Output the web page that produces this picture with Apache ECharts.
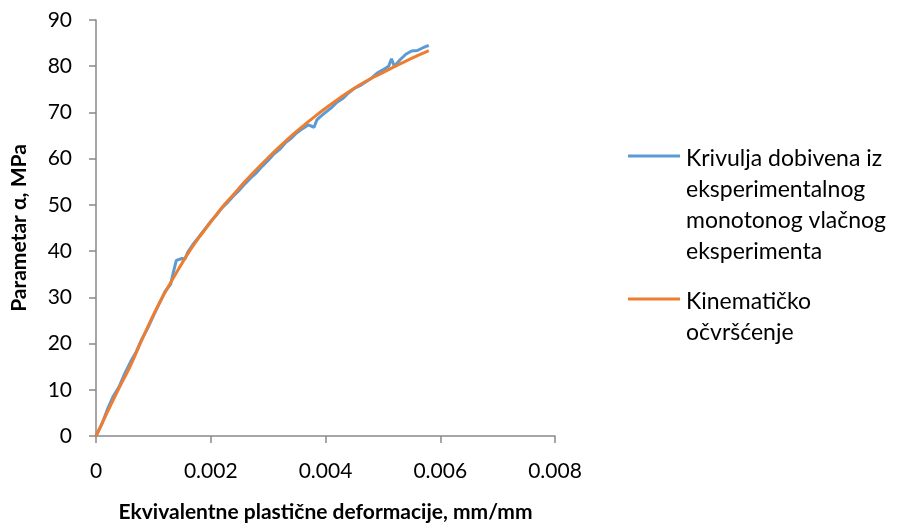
<!DOCTYPE html>
<html>
<head>
<meta charset="utf-8">
<script src="https://cdn.jsdelivr.net/npm/echarts@6/dist/echarts.min.js"></script>
<style>
  html, body { margin: 0; padding: 0; background: #fff; }
</style>
</head>
<body>
<div id="chart" style="width:903px;height:528px;"></div>
<script>
  // podaci ocitani sa slike
  var xTicks = [0, 0.002, 0.004, 0.006, 0.008]
  var yTicks = [0, 10, 20, 30, 40, 50, 60, 70, 80, 90]

  var expEps = [0, 0.0001, 0.0002, 0.0003, 0.0004, 0.0005, 0.0006, 0.0007, 0.0008, 0.0009,
    0.001, 0.0011, 0.0012, 0.0013, 0.00135, 0.0014, 0.0015, 0.00155, 0.0016, 0.0017,
    0.0018, 0.0019, 0.002, 0.0021, 0.0022, 0.0023, 0.0024, 0.0025, 0.0026, 0.0027,
    0.0028, 0.0029, 0.003, 0.0031, 0.0032, 0.0033, 0.0034, 0.0035, 0.0036, 0.0037,
    0.0038, 0.00385, 0.0039, 0.004, 0.0041, 0.0042, 0.0043, 0.0044, 0.0045, 0.0046,
    0.0047, 0.0048, 0.0049, 0.005, 0.0051, 0.00515, 0.0052, 0.0053, 0.0054, 0.0055,
    0.0056, 0.0057, 0.0058]
  var expAlpha = [0, 2.5, 5.8, 8.6, 10.6, 13.5, 16.0, 18.2, 21.0, 23.3,
    26.0, 28.6, 31.2, 32.8, 35.5, 38.0, 38.4, 38.3, 39.8, 41.6,
    43.2, 44.8, 46.4, 47.8, 49.4, 50.6, 52.0, 53.2, 54.6, 55.9,
    57.0, 58.4, 59.6, 61.0, 62.0, 63.4, 64.4, 65.6, 66.5, 67.3,
    66.8, 68.4, 69.0, 70.0, 71.0, 72.2, 73.0, 74.2, 75.2, 75.8,
    76.6, 77.4, 78.5, 79.2, 80.0, 81.6, 80.0, 81.4, 82.6, 83.3,
    83.4, 84.0, 84.5]

  var kinEps = [0, 0.0002, 0.0004, 0.0006, 0.0008, 0.001, 0.0012, 0.0014, 0.0016, 0.0018,
    0.002, 0.0022, 0.0024, 0.0026, 0.0028, 0.003, 0.0032, 0.0034, 0.0036, 0.0038,
    0.004, 0.0042, 0.0044, 0.0046, 0.0048, 0.005, 0.0052, 0.0054, 0.0056, 0.0058]
  var kinAlpha = [0, 5.2, 10.3, 15.2, 20.8, 26.2, 31.0, 35.3, 39.4, 43.0,
    46.3, 49.5, 52.3, 55.1, 57.7, 60.2, 62.6, 64.9, 67.0, 69.0,
    70.9, 72.7, 74.4, 76.0, 77.4, 78.6, 79.9, 81.1, 82.3, 83.4]

  var legendNames = ['Krivulja dobivena iz\neksperimentalnog\nmonotonog vlačnog\neksperimenta', 'Kinematičko\nočvršćenje']
  var colors = ['#5B9BD5', '#ED7D31']

  function pairs(xs, ys) {
    var out = []
    for (let i = 0; i < xs.length; i++) out.push([xs[i], ys[i]])
    return out
  }

  var font = 'Lato'
  var chart = echarts.init(document.getElementById('chart'))

  var option = {
    animation: false,
    textStyle: { fontFamily: font },
    grid: { left: 96, right: 348, top: 20, bottom: 90 },
    xAxis: {
      type: 'value',
      min: xTicks[0], max: xTicks[xTicks.length - 1], interval: 0.002,
      name: 'Ekvivalentne plastične deformacije, mm/mm',
      nameLocation: 'middle', nameGap: 66,
      nameTextStyle: { fontSize: 21, fontWeight: 'bold', color: '#000', fontFamily: font },
      axisLine: { lineStyle: { color: '#898989', width: 1.5 } },
      axisTick: { show: true, length: 7, lineStyle: { color: '#898989', width: 1.5 } },
      splitLine: { show: false },
      axisLabel: { fontSize: 21, color: '#000', margin: 25, fontFamily: font,
        formatter: function (v) { return v === 0 ? '0' : v.toFixed(3) } }
    },
    yAxis: {
      type: 'value',
      min: yTicks[0], max: yTicks[yTicks.length - 1], interval: 10,
      name: 'Parametar α, MPa',
      nameLocation: 'middle', nameGap: 66,
      nameTextStyle: { fontSize: 21, fontWeight: 'bold', color: '#000', fontFamily: font },
      axisLine: { show: true, lineStyle: { color: '#898989', width: 1.5 } },
      axisTick: { show: true, length: 7, lineStyle: { color: '#898989', width: 1.5 } },
      splitLine: { show: false },
      axisLabel: { fontSize: 21, color: '#000', margin: 24, fontFamily: font }
    },
    series: [
      {
        name: legendNames[0], type: 'line', showSymbol: false, z: 2,
        lineStyle: { color: colors[0], width: 3 },
        data: pairs(expEps, expAlpha)
      },
      {
        name: legendNames[1], type: 'line', showSymbol: false, smooth: 0.3, z: 3,
        lineStyle: { color: colors[1], width: 3 },
        data: pairs(kinEps, kinAlpha)
      }
    ],
    graphic: [
      { type: 'line', shape: { x1: 628, y1: 156, x2: 680, y2: 156 }, style: { stroke: colors[0], lineWidth: 3 } },
      { type: 'text', left: 686, top: 143, style: { text: legendNames[0], font: '23px ' + font, fill: '#000', lineHeight: 31 } },
      { type: 'line', shape: { x1: 628, y1: 299, x2: 680, y2: 299 }, style: { stroke: colors[1], lineWidth: 3 } },
      { type: 'text', left: 686, top: 286, style: { text: legendNames[1], font: '23px ' + font, fill: '#000', lineHeight: 31 } }
    ]
  }

  chart.setOption(option)
</script>
</body>
</html>
